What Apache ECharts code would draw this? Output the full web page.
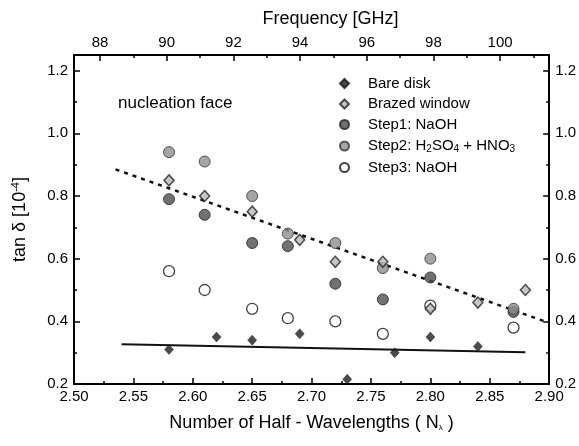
<!DOCTYPE html>
<html><head><meta charset="utf-8">
<script src="https://cdn.jsdelivr.net/npm/echarts@6/dist/echarts.min.js"></script>
<style>html,body{margin:0;padding:0;background:#fff}#c{width:579px;height:446px}</style>
</head><body><div id="c"></div>
<script>
// ---- data (N, tan delta x 1e-4) ----
const bareDisk = [[2.58,0.31],[2.62,0.35],[2.65,0.34],[2.69,0.36],[2.73,0.215],[2.77,0.30],[2.80,0.35],[2.84,0.32]];
const brazedWindow = [[2.58,0.85],[2.61,0.80],[2.65,0.75],[2.69,0.66],[2.72,0.59],[2.76,0.59],[2.80,0.44],[2.84,0.46],[2.88,0.50]];
const step1 = [[2.58,0.79],[2.61,0.74],[2.65,0.65],[2.68,0.64],[2.72,0.52],[2.76,0.47],[2.80,0.54],[2.87,0.43]];
const step2 = [[2.58,0.94],[2.61,0.91],[2.65,0.80],[2.68,0.68],[2.72,0.65],[2.76,0.57],[2.80,0.60],[2.87,0.44]];
const step3 = [[2.58,0.56],[2.61,0.50],[2.65,0.44],[2.68,0.41],[2.72,0.40],[2.76,0.36],[2.80,0.45],[2.87,0.38]];
const bareFit = [[2.54,0.327],[2.88,0.301]];
const brazedFit = [[2.535,0.885],[2.90,0.395]];
// ---- tick labels ----
const freqMajor = [88,90,92,94,96,98,100];
const freqMinor = [89,91,93,95,97,99,101];
const yMajor = [0.2,0.4,0.6,0.8,1.0,1.2];
const yMinor = [0.3,0.5,0.7,0.9,1.1];
const legendNames = ['Bare disk','Brazed window','Step1: NaOH','Step2: H2SO4 + HNO3','Step3: NaOH'];

const FONT = 'Liberation Sans, Arial, sans-serif';
const chart = echarts.init(document.getElementById('c'));
const line = {show:true, lineStyle:{color:'#000', width:2}};
const tickMaj = (vals) => ({show:true, inside:true, length:6, lineStyle:{color:'#000', width:1.5}, customValues: vals});
const lbl = {color:'#000', fontSize:15, fontFamily:FONT};

const xMin = 2.5, xMax = 2.9, fMin = 87.22, fMax = 101.47, yMin = 0.2, yMax = 1.25;

const option = {
  animation:false,
  backgroundColor:'#fff',
  grid:{left:74, right:29, top:55, bottom:62, containLabel:false},
  legend:{
    data:legendNames, orient:'vertical', left:339, top:76, padding:0,
    itemWidth:9, itemHeight:9, itemGap:5.5,
    formatter: n => n === 'Step2: H2SO4 + HNO3'
      ? '{n|Step2: H}{s|2}{n|SO}{s|4}{n| + HNO}{s|3}' : '{n|' + n + '}',
    textStyle:{color:'#000', fontFamily:FONT, fontSize:15, padding:[0,0,0,14],
      rich:{n:{fontSize:15, lineHeight:15, fontFamily:FONT, color:'#000'},
            s:{fontSize:10, lineHeight:8, padding:[7,0,0,0], fontFamily:FONT, color:'#000'}}}
  },
  graphic:[{type:'text', x:118, y:103, style:{text:'nucleation face', font:'17px ' + FONT, fill:'#000', verticalAlign:'middle'}}],
  xAxis:[
    {type:'value', position:'bottom', min:xMin, max:xMax, interval:0.05,
     axisLine:line, splitLine:{show:false},
     axisTick:{show:true, inside:true, length:6, lineStyle:{color:'#000', width:1.5}},
     minorTick:{show:true, splitNumber:2, length:3, lineStyle:{color:'#000', width:1.5}},
     axisLabel:Object.assign({margin:5, formatter:v => v.toFixed(2)}, lbl),
     name:'{n|Number of Half - Wavelengths ( N}{sub|λ}{n| )}', nameLocation:'middle', nameGap:30,
     nameTextStyle:{rich:{n:{fontSize:18, fontFamily:FONT, color:'#000'}, sub:{fontSize:8, padding:[9,0,0,0], fontFamily:FONT, color:'#000'}}}},
    {type:'value', position:'top', min:fMin, max:fMax,
     axisLine:line, splitLine:{show:false},
     axisTick:tickMaj(freqMajor),
     axisLabel:Object.assign({margin:5, customValues:freqMajor}, lbl),
     name:'Frequency [GHz]', nameLocation:'middle', nameGap:27,
     nameTextStyle:{fontSize:18, fontFamily:FONT, color:'#000', padding:[0,0,0,38]}},
    {type:'value', position:'top', min:fMin, max:fMax,
     axisLine:{show:false}, splitLine:{show:false}, axisLabel:{show:false},
     axisTick:{show:true, inside:true, length:3, lineStyle:{color:'#000', width:1.5}, customValues:freqMinor}}
  ],
  yAxis:[
    {type:'value', position:'left', min:yMin, max:yMax,
     axisLine:line, splitLine:{show:false},
     axisTick:tickMaj(yMajor),
     axisLabel:Object.assign({margin:6, customValues:yMajor, formatter:v => v.toFixed(1)}, lbl),
     name:'{n|tan δ [10}{sup|-4}{n|]}', nameLocation:'middle', nameGap:44,
     nameTextStyle:{rich:{n:{fontSize:18, fontFamily:FONT, color:'#000'}, sup:{fontSize:11, padding:[0,0,9,0], fontFamily:FONT, color:'#000'}}}},
    {type:'value', position:'left', min:yMin, max:yMax,
     axisLine:{show:false}, splitLine:{show:false}, axisLabel:{show:false},
     axisTick:{show:true, inside:true, length:3, lineStyle:{color:'#000', width:1.5}, customValues:yMinor}},
    {type:'value', position:'right', min:yMin, max:yMax,
     axisLine:line, splitLine:{show:false},
     axisTick:tickMaj(yMajor),
     axisLabel:Object.assign({margin:6, customValues:yMajor, formatter:v => v.toFixed(1)}, lbl)},
    {type:'value', position:'right', min:yMin, max:yMax,
     axisLine:{show:false}, splitLine:{show:false}, axisLabel:{show:false},
     axisTick:{show:true, inside:true, length:3, lineStyle:{color:'#000', width:1.5}, customValues:yMinor}}
  ],
  series:[
    {type:'line', data:bareFit, symbol:'none', lineStyle:{color:'#111', width:2}, z:1, silent:true},
    {type:'line', data:brazedFit, symbol:'none', lineStyle:{color:'#111', width:2.5, type:[4,5]}, z:1, silent:true},
    {name:'Step1: NaOH', type:'scatter', data:step1, symbol:'circle', symbolSize:11, z:2,
     itemStyle:{color:'#4d4d4d', borderColor:'#222', borderWidth:1}},
    {name:'Step2: H2SO4 + HNO3', type:'scatter', data:step2, symbol:'circle', symbolSize:11, z:3,
     itemStyle:{color:'#8e8e8e', borderColor:'#333', borderWidth:1}},
    {name:'Step3: NaOH', type:'scatter', data:step3, symbol:'circle', symbolSize:11, z:4,
     itemStyle:{color:'#fff', borderColor:'#111', borderWidth:1.3}},
    {name:'Brazed window', type:'scatter', data:brazedWindow, symbol:'diamond', symbolSize:[10,11], z:5,
     itemStyle:{color:'#b8b8b8', borderColor:'#222', borderWidth:1.5}},
    {name:'Bare disk', type:'scatter', data:bareDisk, symbol:'diamond', symbolSize:[9,10], z:6,
     itemStyle:{color:'#1e1e1e', borderColor:'#111', borderWidth:0.5}}
  ]
};
chart.setOption(option);
</script></body></html>
